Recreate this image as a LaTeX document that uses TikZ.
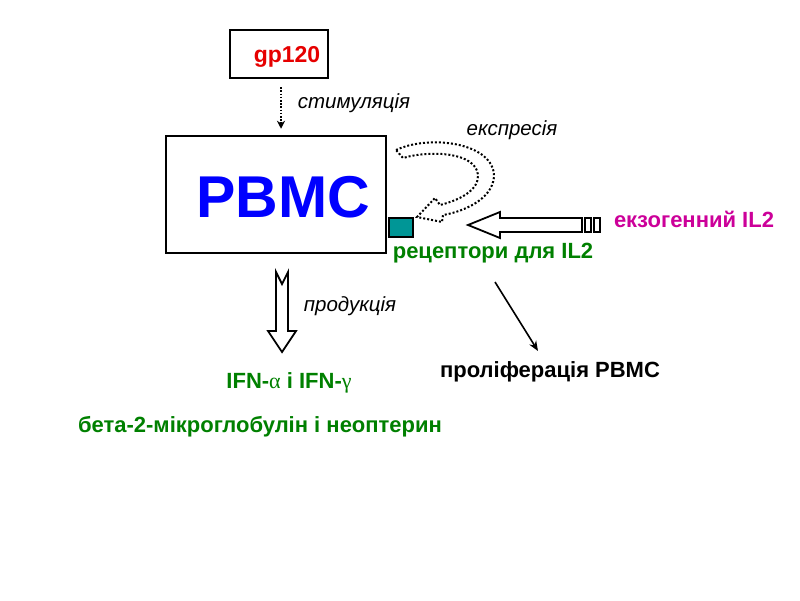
\documentclass[tikz,border=0pt]{standalone}
\usepackage{fontspec}
\setmainfont{Liberation Sans}
\newfontfamily\grk{Liberation Serif}
\usetikzlibrary{arrows.meta,calc}
\definecolor{mygreen}{RGB}{0,128,0}
\definecolor{mymag}{RGB}{204,0,153}
\definecolor{myteal}{RGB}{0,150,150}
\definecolor{myblue}{RGB}{0,0,255}
\definecolor{myred}{RGB}{230,0,0}
\begin{document}
\begin{tikzpicture}[x=1pt,y=-1pt,
  lab/.style={inner sep=0pt, font=\fontsize{22}{24}\selectfont\bfseries},
  ital/.style={inner sep=0pt, font=\fontsize{20.5}{23}\selectfont\itshape},
  boxnode/.style={draw, line width=2.5, inner sep=0pt},
  dotline/.style={line width=2, dash pattern=on 2pt off 2pt},
  hollow/.style={draw, line width=1.8, fill=white, line join=miter},
]
\useasboundingbox (0,0) rectangle (800,600);

% gp120 box
\node[boxnode, minimum width=98, minimum height=48] (gpbox) at (279,54) {};
\node[lab, font=\fontsize{23}{25}\selectfont\bfseries, text=myred] (gp) at (287,57) {gp120};

% PBMC box
\node[boxnode, minimum width=220, minimum height=117] (pbmc) at (276,194.5) {};
\node[inner sep=0pt, font=\fontsize{59}{62}\selectfont\bfseries, text=myblue] (pbmctxt) at (283,197) {PBMC};

% stimulation arrow
\coordinate (s1) at ($(gpbox.south)+(2,8)$);
\coordinate (s2) at ($(gpbox.south |- pbmc.north)+(2,-6)$);
\draw[line width=1.6, dash pattern=on 1.6pt off 1.6pt] (s1) -- ($(s2)+(0,-6)$);
\draw[line width=1.2, -{Stealth[length=8,width=8]}] ($(s2)+(0,-7)$) -- (s2);
\node[ital] (stim) at (354,103) {стимуляція};

% receptor
\node[draw, line width=1.8, fill=myteal, minimum width=24, minimum height=19, inner sep=0pt] (rcp) at (401,227.5) {};
\node[lab, text=mygreen] (rec) at (493,253) {рецептори для IL2};

% expression curved dotted arrow
\draw[dotline] (396,150) .. controls (430,134) and (495,143) .. (494,177)
  .. controls (492,200) and (462,212) .. (443,215) -- (442,222) -- (417,217)
  -- (435,198) -- (440,205) .. controls (460,200) and (479,190) .. (478,175)
  .. controls (476,152) and (430,150) .. (403,158) -- cycle;
\node[ital] (expr) at (512,130) {експресія};

% exogenous IL2 arrow
\draw[hollow] (468,225) -- (500,212) -- (500,218) -- (582,218) -- (582,232) -- (500,232) -- (500,238) -- cycle;
\draw[hollow] (585,218) rectangle (591,232);
\draw[hollow] (594,218) rectangle (600,232);
\node[lab, text=mymag] (exo) at (694,219) {екзогенний IL2};

% production arrow
\draw[hollow] (276,272) -- (282,284) -- (288,272) -- (288,331) -- (296,331) -- (282,352) -- (268,331) -- (276,331) -- cycle;
\node[ital] (prod) at (350,306) {продукція};

\node[lab, text=mygreen] (ifn) at (289,383) {IFN-{\grk\mdseries α} і IFN-{\grk\mdseries γ}};
\node[lab, text=mygreen] (beta) at (260,427) {бета-2-мікроглобулін і неоптерин};

% proliferation
\node[lab] (prol) at (550,372) {проліферація PBMC};
\coordinate (p1) at (495,282);
\coordinate (p2) at (538,351);
\draw[line width=1.6, -{Stealth[length=10,width=8]}] (p1) -- (p2);
\end{tikzpicture}
\end{document}
